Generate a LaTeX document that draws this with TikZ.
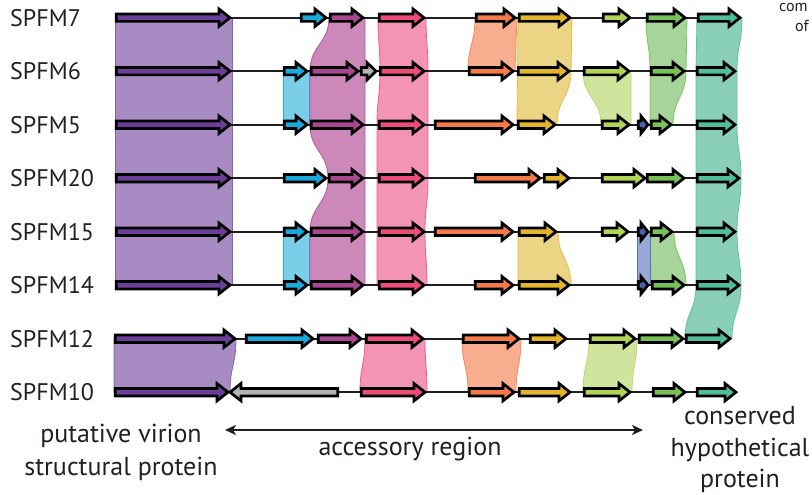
\documentclass[tikz,border=0pt]{standalone}
\usepackage{fontspec}
\setmainfont{PT Sans}
\usetikzlibrary{arrows.meta}

% gene colours
\definecolor{gPurple}{HTML}{6B3F98}
\definecolor{gCyan}{HTML}{1BA9D9}
\definecolor{gMagenta}{HTML}{A8468F}
\definecolor{gGray}{HTML}{B4B4B4}
\definecolor{gPink}{HTML}{EC4B7B}
\definecolor{gOrange}{HTML}{F47A4A}
\definecolor{gYellow}{HTML}{E2B52C}
\definecolor{gLime}{HTML}{B1D356}
\definecolor{gGreen}{HTML}{77C05A}
\definecolor{gTeal}{HTML}{50BE9A}
\definecolor{gBlue}{HTML}{4A63AF}
% homology band colours (fill / edge)
\definecolor{bPurple}{HTML}{A88BC2}\definecolor{ePurple}{HTML}{8462B0}
\definecolor{bCyan}{HTML}{7ACEE8}\definecolor{eCyan}{HTML}{29AEDB}
\definecolor{bMagenta}{HTML}{CD88BA}\definecolor{eMagenta}{HTML}{B157A0}
\definecolor{bPink}{HTML}{F394B4}\definecolor{ePink}{HTML}{EC5C8C}
\definecolor{bOrange}{HTML}{F8AD8F}\definecolor{eOrange}{HTML}{F58A60}
\definecolor{bYellow}{HTML}{ECD485}\definecolor{eYellow}{HTML}{E5BF45}
\definecolor{bLime}{HTML}{D1E49E}\definecolor{eLime}{HTML}{B9D86A}
\definecolor{bGreen}{HTML}{A7D498}\definecolor{eGreen}{HTML}{7FC466}
\definecolor{bTeal}{HTML}{8ACFBA}\definecolor{eTeal}{HTML}{5CC3A0}
\definecolor{bBlue}{HTML}{98A8D6}\definecolor{eBlue}{HTML}{5A72B8}
\definecolor{ink}{HTML}{1E1E1E}
\definecolor{txt}{HTML}{231F20}

\tikzset{
  gene/.style={draw=black, line width=2.7pt, line join=miter},
  backbone/.style={draw=ink, line width=2.2pt},
  band/.style={line width=0.8pt},
  strain/.style={anchor=west, inner sep=0pt, text=txt, font=\fontsize{24}{28}\selectfont},
  caption/.style={anchor=base, inner sep=0pt, text=txt, font=\fontsize{26}{30}\selectfont},
  smallcap/.style={anchor=base west, inner sep=0pt, text=txt, font=\fontsize{16}{18}\selectfont},
}

% forward gene: [head length] left, tip, row, colour
\newcommand{\fgene}[5][11]{%
  \draw[gene,fill=#5] (#2+1.3,#4-3.7) -- (#3-2-#1,#4-3.7) -- (#3-2-#1,#4-8.7)
    -- (#3-2,#4) -- (#3-2-#1,#4+8.7) -- (#3-2-#1,#4+3.7) -- (#2+1.3,#4+3.7) -- cycle;}
% reverse gene: [head length] tip, right, row, colour
\newcommand{\rgene}[5][11]{%
  \draw[gene,fill=#5] (#3-1.3,#4-3.7) -- (#2+2+#1,#4-3.7) -- (#2+2+#1,#4-8.7)
    -- (#2+2,#4) -- (#2+2+#1,#4+8.7) -- (#2+2+#1,#4+3.7) -- (#3-1.3,#4+3.7) -- cycle;}

\begin{document}
\begin{tikzpicture}[x=1pt,y=-1pt]
\useasboundingbox (0,0) rectangle (812,495);

% row heights
\def\ra{17.7}\def\rb{71.2}\def\rc{124.7}\def\rd{178.2}
\def\re{231.7}\def\rf{285.2}\def\rg{338.7}\def\rh{392.2}

% ---------- homology bands ----------
\path[band,fill=bPurple,draw=ePurple] (115,\ra) -- (232,\ra) -- (232,\rf) -- (115,\rf) -- cycle;
\path[band,fill=bPurple,draw=ePurple] (114,\rg) -- (236,\rg)
  .. controls +(0,26) and +(0,-26) .. (230,\rh) -- (114,\rh) -- cycle;

\path[band,fill=bCyan,draw=eCyan] (283,\rb) rectangle (309,\rc);
\path[band,fill=bCyan,draw=eCyan] (283,\re) rectangle (309,\rf);

\path[band,fill=bMagenta,draw=eMagenta] (329,\ra)
  .. controls +(0,26) and +(0,-26) .. (310,\rb) -- (310,\rc)
  .. controls +(0,26) and +(0,-26) .. (328,\rd)
  .. controls +(0,26) and +(0,-26) .. (310,\re) -- (310,\rf)
  -- (365,\rf) -- (365,\ra) -- cycle;

\path[band,fill=bPink,draw=ePink] (378,\ra)
  .. controls +(0,26) and +(0,-26) .. (380,\rb)
  .. controls +(0,26) and +(0,-26) .. (377,\rc) -- (377,\rf) -- (427,\rf)
  .. controls +(0,-26) and +(0,26) .. (425,\re)
  .. controls +(0,-26) and +(0,26) .. (428,\rd) -- (428,\rb)
  .. controls +(0,-26) and +(0,26) .. (426,\ra) -- cycle;
\path[band,fill=bPink,draw=ePink] (365,\rg) -- (425,\rg)
  .. controls +(0,26) and +(0,-26) .. (427,\rh) -- (360,\rh)
  .. controls +(0,-26) and +(0,26) .. (365,\rg) -- cycle;

\path[band,fill=bOrange,draw=eOrange] (475,\ra) -- (517,\ra) -- (515,\rb) -- (468,\rb)
  .. controls +(0,-26) and +(0,26) .. (475,\ra) -- cycle;
\path[band,fill=bOrange,draw=eOrange] (462,\rg) -- (521,\rg)
  .. controls +(0,26) and +(0,-26) .. (516,\rh) -- (468,\rh)
  .. controls +(0,-26) and +(0,26) .. (462,\rg) -- cycle;

\path[band,fill=bYellow,draw=eYellow] (518,\ra) -- (572,\ra) -- (571,\rb)
  .. controls +(0,26) and +(0,-26) .. (557,\rc) -- (517,\rc) -- cycle;
\path[band,fill=bYellow,draw=eYellow] (518,\re) -- (558,\re)
  .. controls +(0,26) and +(0,-26) .. (571,\rf) -- (518,\rf) -- cycle;

\path[band,fill=bLime,draw=eLime] (583,\rb) -- (631,\rb) -- (631,\rc) -- (601,\rc)
  .. controls +(0,-26) and +(0,26) .. (583,\rb) -- cycle;
\path[band,fill=bLime,draw=eLime] (589,\rg) -- (637,\rg)
  .. controls +(0,26) and +(0,-26) .. (632,\rh) -- (583,\rh)
  .. controls +(0,-26) and +(0,26) .. (589,\rg) -- cycle;

\path[band,fill=bGreen,draw=eGreen] (646,\ra) -- (687,\ra) -- (686,\rb)
  .. controls +(0,26) and +(0,-26) .. (673,\rc) -- (650,\rc) -- (650,\rb)
  .. controls +(0,-26) and +(0,26) .. (646,\ra) -- cycle;
\path[band,fill=bGreen,draw=eGreen] (650,\re) -- (674,\re)
  .. controls +(0,26) and +(0,-26) .. (686,\rf) -- (651,\rf) -- cycle;

\path[band,fill=bBlue,draw=eBlue] (637,\re) rectangle (650,\rf);

\path[band,fill=bTeal,draw=eTeal] (697,\ra) -- (696,\rb) -- (696,\rf)
  .. controls +(0,26) and +(0,-26) .. (685,\rg) -- (732,\rg)
  .. controls +(0,-26) and +(0,26) .. (741,\rf)
  .. controls +(0,-26) and +(0,26) .. (737,\re)
  .. controls +(0,-26) and +(0,26) .. (741,\rd)
  .. controls +(0,-26) and +(0,26) .. (737,\rc) -- (737,\rb)
  .. controls +(0,-26) and +(0,26) .. (742,\ra) -- cycle;

% ---------- genome backbones ----------
\draw[backbone] (115,\ra) -- (740,\ra);
\draw[backbone] (115,\rb) -- (735,\rb);
\draw[backbone] (115,\rc) -- (735,\rc);
\draw[backbone] (115,\rd) -- (739,\rd);
\draw[backbone] (115,\re) -- (735,\re);
\draw[backbone] (115,\rf) -- (739,\rf);
\draw[backbone] (115,\rg) -- (730,\rg);
\draw[backbone] (115,\rh) -- (736,\rh);

% ---------- genes ----------
% SPFM7
\fgene{115}{232}{\ra}{gPurple}
\fgene{300}{328}{\ra}{gCyan}
\fgene{329}{365}{\ra}{gMagenta}
\fgene{378}{426}{\ra}{gPink}
\fgene{475}{517}{\ra}{gOrange}
\fgene{518}{572}{\ra}{gYellow}
\fgene{602}{632}{\ra}{gLime}
\fgene{646}{687}{\ra}{gGreen}
\fgene{697}{742}{\ra}{gTeal}
% SPFM6
\fgene{115}{232}{\rb}{gPurple}
\fgene{283}{309}{\rb}{gCyan}
\fgene{310}{360}{\rb}{gMagenta}
\fgene[9]{360}{378}{\rb}{gGray}
\fgene{379}{426}{\rb}{gPink}
\fgene{468}{515}{\rb}{gOrange}
\fgene{517}{571}{\rb}{gYellow}
\fgene{583}{631}{\rb}{gLime}
\fgene{650}{686}{\rb}{gGreen}
\fgene{696}{737}{\rb}{gTeal}
% SPFM5
\fgene{115}{232}{\rc}{gPurple}
\fgene{283}{309}{\rc}{gCyan}
\fgene{310}{365}{\rc}{gMagenta}
\fgene{378}{426}{\rc}{gPink}
\fgene{434}{515}{\rc}{gOrange}
\fgene{517}{557}{\rc}{gYellow}
\fgene{601}{631}{\rc}{gLime}
\fgene[7]{637}{650}{\rc}{gBlue}
\fgene{650}{673}{\rc}{gGreen}
\fgene{696}{737}{\rc}{gTeal}
% SPFM20
\fgene{115}{232}{\rd}{gPurple}
\fgene{283}{328}{\rd}{gCyan}
\fgene{328}{365}{\rd}{gMagenta}
\fgene{378}{426}{\rd}{gPink}
\fgene{474}{542}{\rd}{gOrange}
\fgene{543}{571}{\rd}{gYellow}
\fgene{601}{647}{\rd}{gLime}
\fgene{646}{686}{\rd}{gGreen}
\fgene{696}{741}{\rd}{gTeal}
% SPFM15
\fgene{115}{232}{\re}{gPurple}
\fgene{283}{309}{\re}{gCyan}
\fgene{310}{365}{\re}{gMagenta}
\fgene{378}{426}{\re}{gPink}
\fgene{434}{515}{\re}{gOrange}
\fgene{518}{558}{\re}{gYellow}
\fgene{601}{630}{\re}{gLime}
\fgene[7]{637}{650}{\re}{gBlue}
\fgene{650}{674}{\re}{gGreen}
\fgene{696}{737}{\re}{gTeal}
% SPFM14
\fgene{115}{232}{\rf}{gPurple}
\fgene{283}{309}{\rf}{gCyan}
\fgene{310}{365}{\rf}{gMagenta}
\fgene{378}{426}{\rf}{gPink}
\fgene{474}{515}{\rf}{gOrange}
\fgene{518}{571}{\rf}{gYellow}
\fgene[7]{637}{650}{\rf}{gBlue}
\fgene{651}{686}{\rf}{gGreen}
\fgene{696}{741}{\rf}{gTeal}
% SPFM12
\fgene{114}{237}{\rg}{gPurple}
\fgene{245}{315}{\rg}{gCyan}
\fgene{317}{363}{\rg}{gMagenta}
\fgene{365}{425}{\rg}{gPink}
\fgene{462}{521}{\rg}{gOrange}
\fgene{529}{568}{\rg}{gYellow}
\fgene{589}{637}{\rg}{gLime}
\fgene{638}{685}{\rg}{gGreen}
\fgene{685}{732}{\rg}{gTeal}
% SPFM10
\fgene{114}{230}{\rh}{gPurple}
\rgene{228}{339}{\rh}{gGray}
\fgene{360}{427}{\rh}{gPink}
\fgene{468}{516}{\rh}{gOrange}
\fgene{518}{572}{\rh}{gYellow}
\fgene{583}{632}{\rh}{gLime}
\fgene{652}{687}{\rh}{gGreen}
\fgene{696}{738}{\rh}{gTeal}

% ---------- strain names ----------
\node[strain] (n7)  at (10,\ra) {SPFM7};
\node[strain] (n6)  at (10,\rb) {SPFM6};
\node[strain] (n5)  at (10,\rc) {SPFM5};
\node[strain] (n20) at (10,\rd) {SPFM20};
\node[strain] (n15) at (10,\re) {SPFM15};
\node[strain] (n14) at (10,\rf) {SPFM14};
\node[strain] (n12) at (10,\rg) {SPFM12};
\node[strain] (n10) at (10,\rh) {SPFM10};

% ---------- region captions ----------
\node[caption] (pv1) at (121,442.7) {putative virion};
\node[caption] (pv2) at (121,475) {structural protein};
\node[caption] (acc) at (410,455) {accessory region};
\node[caption] (ch1) at (740,424) {conserved};
\node[caption] (ch2) at (740,456) {hypothetical};
\node[caption] (ch3) at (740,487) {protein};
\coordinate (accL) at (225,430);
\coordinate (accR) at (643,430);
\draw[line width=1.9pt, draw=ink,
  {Stealth[length=11pt,width=10pt,inset=3pt]}-{Stealth[length=11pt,width=10pt,inset=3pt]}]
  (accL) -- (accR);

% note at the top right edge
\node[smallcap] (nt1) at (779,12) {com};
\node[smallcap] (nt2) at (795,32) {of};
\end{tikzpicture}
\end{document}
